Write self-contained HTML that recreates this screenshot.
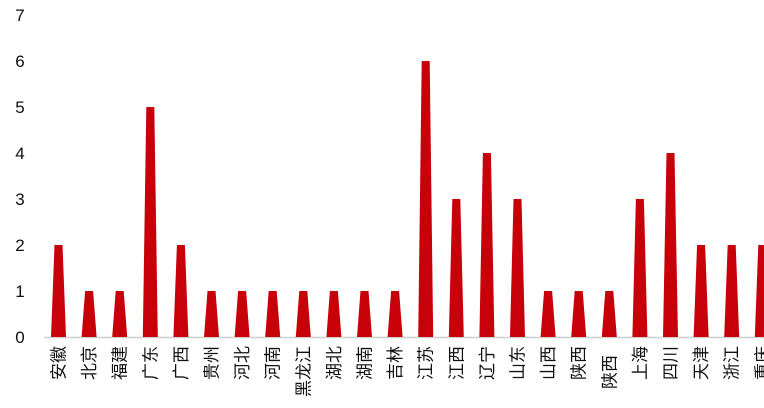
<!DOCTYPE html>
<html><head><meta charset="utf-8"><style>
html,body{margin:0;padding:0;background:#fff;}
svg{display:block;}
text{font-family:"Liberation Sans","Noto Sans CJK SC",sans-serif;fill:#111;}
</style></head><body>
<svg width="764" height="408" viewBox="0 0 764 408">
<g font-size="17" text-anchor="middle">
<text x="20" y="21">7</text><text x="20" y="67">6</text><text x="20" y="113">5</text><text x="20" y="159">4</text>
<text x="20" y="205">3</text><text x="20" y="251">2</text><text x="20" y="297">1</text><text x="20" y="343">0</text>
</g>
<line x1="44" y1="337.5" x2="764" y2="337.5" stroke="#d0d0d0" stroke-width="1.5"/>
<g id="bars" fill="#c8000a"></g>
<g id="labels" font-size="17"></g>
</svg>
<script>
(function(){
var d=[2,1,1,5,2,1,1,1,1,1,1,1,6,3,4,3,1,1,1,3,4,2,2,2];
var l=["安徽","北京","福建","广东","广西","贵州","河北","河南","黑龙江","湖北","湖南","吉林","江苏","江西","辽宁","山东","山西","陕西","陕西","上海","四川","天津","浙江","重庆"];
var ns="http://www.w3.org/2000/svg",b=document.getElementById("bars"),t=document.getElementById("labels");
for(var i=0;i<d.length;i++){
 var c=58.5+i*30.6,ty=337-d[i]*46;
 var p=document.createElementNS(ns,"polygon");
 p.setAttribute("points",(c-4)+","+ty+" "+(c+4)+","+ty+" "+(c+7.5)+",337 "+(c-7.5)+",337");
 b.appendChild(p);
 var tx=document.createElementNS(ns,"text");
 var y=(i==18)?355:346;
 tx.setAttribute("x",0);tx.setAttribute("y",0);
 tx.setAttribute("text-anchor","end");
 tx.setAttribute("transform","translate("+(c+6)+","+y+") rotate(-90)");
 tx.textContent=l[i];t.appendChild(tx);
}
})();
</script>
</body></html>
